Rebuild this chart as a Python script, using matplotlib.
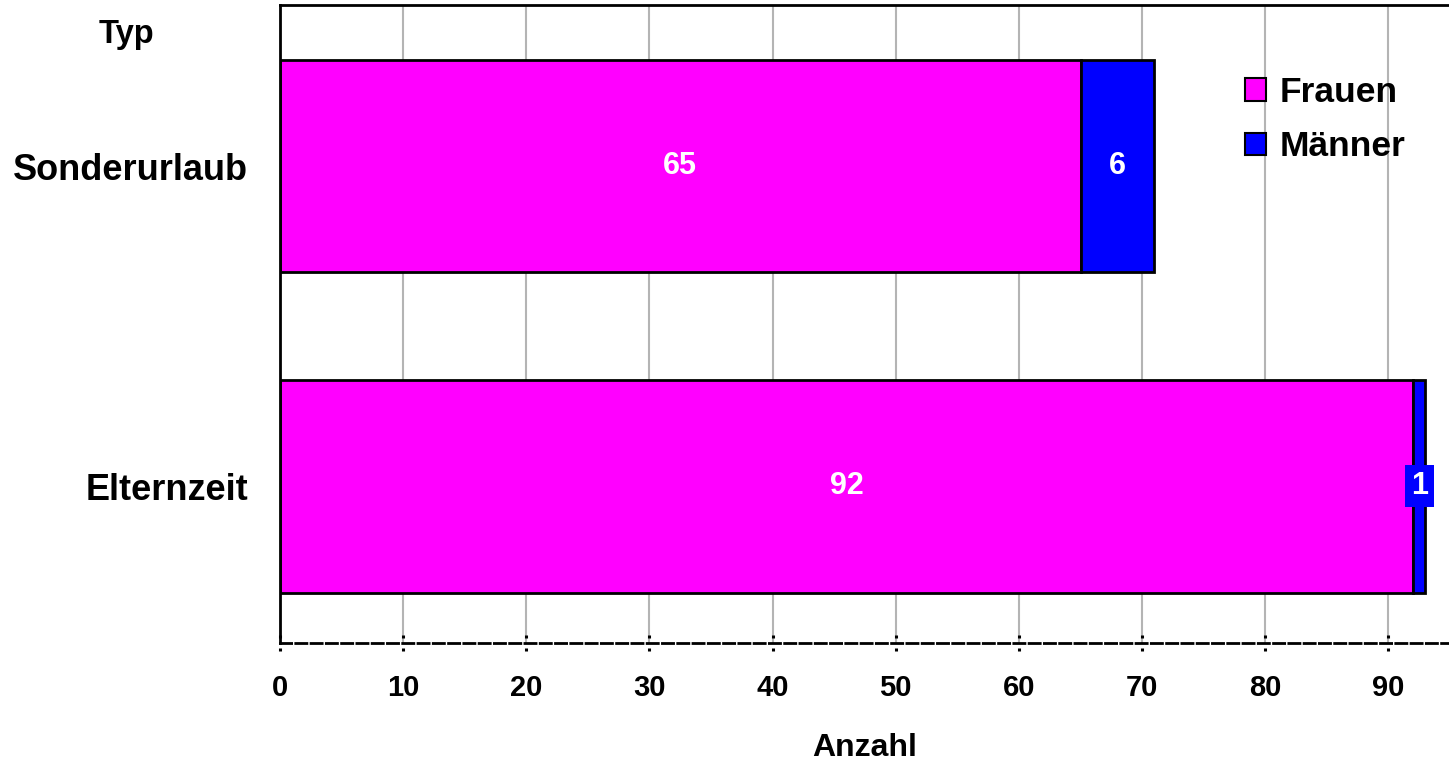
import matplotlib
matplotlib.use('Agg')
import matplotlib.pyplot as plt
from matplotlib.patches import Patch
from matplotlib.path import Path

plt.rcParams['font.family'] = ['Liberation Sans', 'DejaVu Sans']
plt.rcParams['font.weight'] = 'bold'

categories = ['Elternzeit', 'Sonderurlaub']
frauen = [92, 65]
maenner = [1, 6]
xticks = [0, 10, 20, 30, 40, 50, 60, 70, 80, 90]

pink = '#FF00FF'
blue = '#0000FF'

fig = plt.figure(figsize=(14.49, 7.61), dpi=100)
ax = fig.add_axes([280 / 1449, 1 - 643 / 761, 1170 / 1449, 638 / 761])

pos = list(range(len(categories)))
b1 = ax.barh(pos, frauen, height=0.665, color=pink, edgecolor='black', linewidth=2, zorder=2)
b2 = ax.barh(pos, maenner, left=frauen, height=0.665, color=blue, edgecolor='black', linewidth=2, zorder=2)

ax.bar_label(b1, label_type='center', color='white', fontsize=22, fontweight='bold')
lbls = ax.bar_label(b2, label_type='center', color='white', fontsize=22, fontweight='bold')
for t, v in zip(lbls, maenner):
    if v < 3:
        # narrow segment: label gets its own blue box
        t.set_bbox(dict(boxstyle='square,pad=0.2', facecolor=blue, edgecolor='none'))
        t.set_zorder(5)

ax.set_xlim(0, 95)
ax.set_ylim(-0.49, 1.503)
ax.set_yticks(pos)
ax.set_yticklabels(categories, fontsize=26, fontweight='bold')
ax.set_xticks(xticks)
ax.set_xticklabels([str(x) for x in xticks], fontsize=21, fontweight='bold')

ax.xaxis.grid(True, color='#b4b4b4', linewidth=1.5, zorder=0)
ax.set_axisbelow(True)

ax.tick_params(axis='y', length=0, pad=23)
ax.tick_params(axis='x', direction='inout', length=12.2, width=2.2, pad=16.5, color='black')

# split tick marks (segment above and below the axis line)
tick_path = Path([(0, -1), (0, -0.62), (0, 0.62), (0, 1)],
                 [Path.MOVETO, Path.LINETO, Path.MOVETO, Path.LINETO])
for t in ax.xaxis.get_major_ticks():
    t.tick1line.set_marker(tick_path)

for s in ['left', 'top']:
    ax.spines[s].set_linewidth(2)
    ax.spines[s].set_color('black')
ax.spines['right'].set_visible(False)
ax.spines['bottom'].set_color('black')
ax.spines['bottom'].set_linewidth(2)
ax.spines['bottom'].set_linestyle((0, (4, 1.5)))

ax.set_xlabel('Anzahl', fontsize=23, fontweight='bold', labelpad=22)

fig.text(126 / 1449, 1 - 34 / 761, 'Typ', fontsize=23.5, fontweight='bold', ha='center', va='center')

handles = [Patch(facecolor=pink, edgecolor='black', linewidth=1.5),
           Patch(facecolor=blue, edgecolor='black', linewidth=1.5)]
leg = fig.legend(handles, ['Frauen', 'Männer'], loc='upper left',
                 bbox_to_anchor=(1245 / 1449, 1 - 76 / 761), frameon=False,
                 prop={'size': 25.5, 'weight': 'bold'}, handlelength=0.6, handleheight=0.6,
                 handletextpad=0.37, labelspacing=0.6, borderpad=0, borderaxespad=0)

fig.savefig('out.png', dpi=100)
